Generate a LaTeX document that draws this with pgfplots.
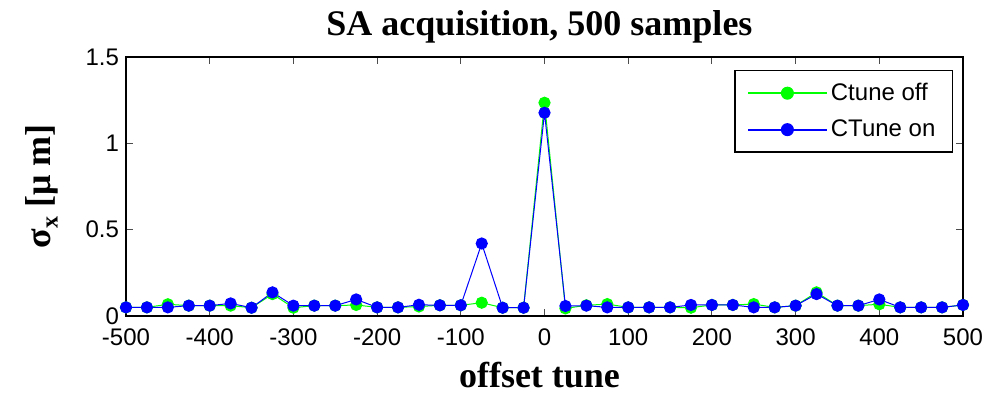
\documentclass[border=0pt]{standalone}
\usepackage{pgfplots}
\pgfplotsset{compat=1.18}
\usepackage{pgfplotstable}
\usepackage{fontspec}
\setmainfont{Liberation Sans}
\newfontfamily\timesfont{Liberation Serif}
\definecolor{mgreen}{rgb}{0,1,0}
\definecolor{mblue}{rgb}{0,0,1}
\pgfplotstableread{
x y
-500 0.05
-475 0.05
-450 0.068
-425 0.06
-400 0.06
-375 0.06
-350 0.048
-325 0.127
-300 0.048
-275 0.06
-250 0.06
-225 0.064
-200 0.05
-175 0.05
-150 0.055
-125 0.062
-100 0.062
-75 0.077
-50 0.048
-25 0.048
0 1.235
25 0.044
50 0.062
75 0.069
100 0.05
125 0.05
150 0.05
175 0.048
200 0.064
225 0.064
250 0.069
275 0.05
300 0.06
325 0.137
350 0.06
375 0.06
400 0.068
425 0.05
450 0.05
475 0.05
500 0.064
}\offdata
\pgfplotstableread{
x y
-500 0.05
-475 0.05
-450 0.05
-425 0.06
-400 0.06
-375 0.073
-350 0.048
-325 0.137
-300 0.06
-275 0.06
-250 0.06
-225 0.096
-200 0.05
-175 0.05
-150 0.065
-125 0.062
-100 0.062
-75 0.42
-50 0.048
-25 0.048
0 1.177
25 0.058
50 0.06
75 0.05
100 0.05
125 0.05
150 0.05
175 0.064
200 0.064
225 0.064
250 0.05
275 0.05
300 0.06
325 0.127
350 0.06
375 0.06
400 0.096
425 0.05
450 0.05
475 0.05
500 0.064
}\ondata
\begin{document}
\begin{tikzpicture}
\begin{axis}[
  name=ax,
  scale only axis,
  width=418.5pt, height=129.5pt,
  xmin=-500, xmax=500, ymin=0, ymax=1.5,
  xtick={-500,-400,...,500},
  ytick={0,0.5,1,1.5},
  yticklabels={0,0.5,1,1.5},
  tick align=inside,
  major tick length=3.5pt,
  tick style={black!70, line width=0.5pt},
  axis line style={line width=0.6pt},
  every tick label/.append style={font=\fontsize{12}{14}\selectfont},
  /pgf/number format/assume math mode=true,
  xticklabel style={yshift=-3pt},
  yticklabel style={xshift=0pt},
  title={\timesfont\bfseries SA acquisition, 500 samples},
  title style={font=\fontsize{18}{20}\selectfont, inner sep=0pt, at={(axis description cs:0.5,1)}, anchor=base, yshift=5pt, xshift=-2.5pt},
  xlabel={\timesfont\bfseries offset tune},
  xlabel style={font=\fontsize{18}{20}\selectfont, inner sep=0pt, at={(axis description cs:0.5,0)}, anchor=base, yshift=-35.5pt, xshift=-2.5pt},
  ylabel={\timesfont\bfseries σ\raisebox{-0.45ex}{\fontsize{12}{12}\selectfont x} [μ m]},
  ylabel style={font=\fontsize{18}{20}\selectfont, inner sep=0pt, at={(axis description cs:-0.101,0.5)}, anchor=center},
  legend style={at={(1,1)}, anchor=north east, xshift=-5pt, yshift=-6.5pt,
    font=\fontsize{12}{14}\selectfont, draw=black, line width=0.6pt,
    inner xsep=6.5pt, inner ysep=4.2pt, row sep=4.2pt, cells={anchor=west}},
  clip=false,
]
\addplot[color=mgreen, line width=0.5pt, mark=*, mark size=2.8pt,
  mark options={fill=mgreen, draw=mgreen},
  legend image code/.code={%
    \fill[mgreen] (0pt,-0.3pt) rectangle (39pt,0.3pt);
    \fill[mgreen] (19.5pt,0pt) circle (3pt);}] table {\offdata};
\addlegendentry{Ctune off}
\addplot[color=mblue, line width=0.5pt, mark=*, mark size=2.8pt,
  mark options={fill=mblue, draw=mblue},
  legend image code/.code={%
    \fill[mblue] (0pt,-0.3pt) rectangle (39pt,0.3pt);
    \fill[mblue] (19.5pt,0pt) circle (3pt);}] table {\ondata};
\addlegendentry{CTune on}
\end{axis}
\path (ax.south west) ++(-63pt,-38pt) rectangle ++(497pt,196pt);
\end{tikzpicture}
\end{document}
